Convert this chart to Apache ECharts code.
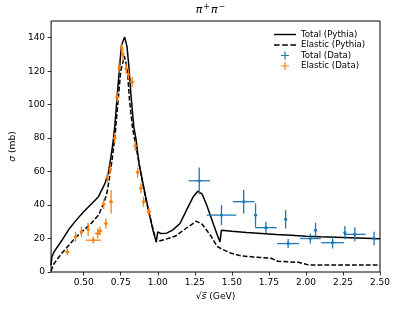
<!DOCTYPE html>
<html>
<head>
<meta charset="utf-8">
<script src="https://cdn.jsdelivr.net/npm/echarts@6/dist/echarts.min.js"></script>
<style>html,body{margin:0;padding:0;background:#fff}#c{width:398px;height:309px}</style>
</head>
<body>
<div id="c"></div>
<script>
var xTicks = [0.5, 0.75, 1.0, 1.25, 1.5, 1.75, 2.0, 2.25, 2.5];
var yTicks = [0, 20, 40, 60, 80, 100, 120, 140];

var totalPythiaX = [0.28, 0.285, 0.30, 0.35, 0.40, 0.45, 0.50, 0.55, 0.60, 0.644, 0.667, 0.688, 0.70, 0.71, 0.726, 0.743, 0.754, 0.776, 0.792, 0.805, 0.82, 0.838, 0.853, 0.875, 0.908, 0.941, 0.97, 0.99, 1.0, 1.02, 1.06, 1.10, 1.15, 1.20, 1.24, 1.27, 1.30, 1.33, 1.37, 1.40, 1.42, 1.43, 1.5, 1.6, 1.7, 1.8, 1.9, 2.0, 2.1, 2.2, 2.3, 2.4, 2.5];
var totalPythiaY = [4, 9, 12, 18.5, 25.5, 31, 36, 40.5, 45, 53, 59.5, 71, 79, 87, 105, 123, 135, 140.5, 135, 123, 105, 87, 79.5, 64, 49.5, 35.5, 24, 18, 24, 23, 23.2, 25, 29, 38, 45, 48.3, 46.5, 40, 30, 22.5, 18, 25, 24.3, 23.6, 23, 22.4, 21.9, 21.4, 21, 20.7, 20.4, 20.1, 19.8];

var elasticPythiaX = [0.28, 0.29, 0.30, 0.35, 0.40, 0.45, 0.50, 0.55, 0.60, 0.63, 0.655, 0.67, 0.69, 0.71, 0.733, 0.75, 0.775, 0.795, 0.809, 0.83, 0.853, 0.886, 0.919, 0.963, 0.99, 1.05, 1.12, 1.18, 1.26, 1.30, 1.36, 1.40, 1.43, 1.49, 1.556, 1.64, 1.765, 1.81, 1.95, 2.02, 2.5];
var elasticPythiaY = [0.5, 3, 5, 11, 16, 21, 25, 29, 34, 40, 46.4, 54, 66, 80, 103, 120, 129, 121, 103, 86, 75, 59, 43.5, 27.5, 18, 19.5, 21.5, 25.4, 30.4, 28.5, 21.4, 15.4, 13.8, 11.4, 9.8, 9, 8.2, 6.4, 5.8, 4.2, 4.2];

// [sqrt(s), sigma, xerr, yerr]
var totalData = [
  [1.28, 54.5, 0.072, 8],
  [1.43, 34, 0.1, 6],
  [1.58, 42, 0.074, 7],
  [1.66, 34, 0.008, 7],
  [1.73, 26.5, 0.073, 3.5],
  [1.863, 31.5, 0.008, 5.5],
  [1.88, 17, 0.074, 2.7],
  [2.03, 20, 0.07, 3],
  [2.065, 25, 0.008, 4.5],
  [2.18, 17.5, 0.077, 3.5],
  [2.263, 23.5, 0.008, 4],
  [2.33, 22.5, 0.073, 4.3],
  [2.46, 20, 0.01, 4]
];
var elasticData = [
  [0.39, 12, 0.015, 2],
  [0.445, 21, 0.01, 3],
  [0.485, 24, 0.012, 3],
  [0.53, 25.5, 0.012, 4],
  [0.565, 19, 0.05, 2],
  [0.595, 23, 0.02, 3],
  [0.61, 24.5, 0.015, 2.5],
  [0.65, 29, 0.01, 3],
  [0.635, 40.5, 0.012, 3],
  [0.685, 42, 0.012, 7],
  [0.66, 56.5, 0.01, 3],
  [0.68, 61.5, 0.01, 3],
  [0.71, 80, 0.01, 3],
  [0.726, 104.5, 0.012, 3],
  [0.739, 122, 0.01, 3],
  [0.755, 134, 0.008, 3],
  [0.765, 130, 0.008, 4],
  [0.787, 121.5, 0.01, 3],
  [0.802, 118, 0.01, 3],
  [0.827, 113.5, 0.015, 3],
  [0.848, 75.5, 0.01, 3],
  [0.864, 59.5, 0.01, 3],
  [0.886, 50, 0.01, 3],
  [0.904, 42, 0.01, 3],
  [0.94, 36, 0.015, 2.5]
];

function zip(xs, ys) { return xs.map(function (x, i) { return [x, ys[i]]; }); }

var FONT = 'DejaVu Sans';
var crossIcon = 'path://M8.5,0H11.5V8.5H20V11.5H11.5V20H8.5V11.5H0V8.5H8.5Z';
var solidIcon = 'path://M0,0H22V1.4H0Z';
var dashIcon = 'path://M0,0H5.6V1.4H0Z M8.2,0H13.8V1.4H8.2Z M16.4,0H22V1.4H16.4Z';

function errRender(color) {
  return function (params, api) {
    var x = api.value(0), y = api.value(1), xe = api.value(2), ye = api.value(3);
    var c = api.coord([x, y]);
    var l = api.coord([x - xe, y]), r = api.coord([x + xe, y]);
    var b = api.coord([x, y - ye]), t = api.coord([x, y + ye]);
    var st = { stroke: color, lineWidth: 1.3 };
    return {
      type: 'group',
      children: [
        { type: 'line', shape: { x1: l[0], y1: l[1], x2: r[0], y2: r[1] }, style: st },
        { type: 'line', shape: { x1: b[0], y1: b[1], x2: t[0], y2: t[1] }, style: st },
        { type: 'circle', shape: { cx: c[0], cy: c[1], r: 1.6 }, style: { fill: color } }
      ]
    };
  };
}

var chart = echarts.init(document.getElementById('c'), null, { renderer: 'canvas' });
chart.setOption({
  animation: false,
  backgroundColor: '#fff',
  textStyle: { fontFamily: FONT },
  title: {
    text: '{i|π}{s|+}{i|π}{s|−}',
    left: 211, textAlign: 'center', top: 3, padding: 0,
    textStyle: {
      fontFamily: FONT, fontSize: 11, fontWeight: 'normal', color: '#000',
      rich: {
        i: { fontFamily: FONT, fontSize: 11, fontStyle: 'italic', color: '#000', lineHeight: 14 },
        s: { fontFamily: FONT, fontSize: 8, color: '#000', lineHeight: 8, verticalAlign: 'top', padding: [0, 1, 0, 1] }
      }
    }
  },
  grid: { left: 43, right: 18, top: 21, bottom: 37, show: true, borderColor: '#000', borderWidth: 1, backgroundColor: 'transparent' },
  legend: {
    orient: 'vertical', left: 274, top: 30, padding: 0,
    itemWidth: 22, itemHeight: 8, itemGap: 1.5,
    textStyle: { fontFamily: FONT, fontSize: 8.6, color: '#000', lineHeight: 8 },
    data: [
      { name: 'Total (Pythia)', icon: solidIcon },
      { name: 'Elastic (Pythia)', icon: dashIcon },
      { name: 'Total (Data)', icon: crossIcon },
      { name: 'Elastic (Data)', icon: crossIcon }
    ]
  },
  xAxis: {
    type: 'value', min: 0.28, max: 2.5,
    name: '√{i|s̅} (GeV)', nameLocation: 'middle', nameGap: 20,
    nameTextStyle: { fontFamily: FONT, fontSize: 9.2, color: '#000',
      rich: { i: { fontFamily: FONT, fontSize: 9.2, fontStyle: 'italic', color: '#000' } } },
    splitLine: { show: false },
    axisLine: { show: false },
    axisTick: { show: true, inside: false, length: 3.5, lineStyle: { color: '#000', width: 0.8 }, customValues: xTicks },
    axisLabel: { fontFamily: FONT, fontSize: 9, color: '#000', margin: 6, customValues: xTicks,
      formatter: function (v) { return v.toFixed(2); } }
  },
  yAxis: {
    type: 'value', min: 0, max: 150,
    name: '{i|σ} (mb)', nameLocation: 'middle', nameGap: 27, nameRotate: 90,
    nameTextStyle: { fontFamily: FONT, fontSize: 9.2, color: '#000',
      rich: { i: { fontFamily: FONT, fontSize: 9.2, fontStyle: 'italic', color: '#000' } } },
    splitLine: { show: false },
    axisLine: { show: false },
    axisTick: { show: true, inside: false, length: 3.5, lineStyle: { color: '#000', width: 0.8 }, customValues: yTicks },
    axisLabel: { fontFamily: FONT, fontSize: 9, color: '#000', margin: 6, customValues: yTicks }
  },
  series: [
    {
      name: 'Total (Pythia)', type: 'line', data: zip(totalPythiaX, totalPythiaY),
      symbol: 'none', showSymbol: false, z: 2,
      lineStyle: { color: '#000', width: 1.5, type: 'solid' }, itemStyle: { color: '#000' }
    },
    {
      name: 'Elastic (Pythia)', type: 'line', data: zip(elasticPythiaX, elasticPythiaY),
      symbol: 'none', showSymbol: false, z: 2,
      lineStyle: { color: '#000', width: 1.5, type: [4.8, 2.1] }, itemStyle: { color: '#000' }
    },
    {
      name: 'Total (Data)', type: 'custom', data: totalData, z: 3,
      itemStyle: { color: '#1f77b4' }, renderItem: errRender('#1f77b4')
    },
    {
      name: 'Elastic (Data)', type: 'custom', data: elasticData, z: 3,
      itemStyle: { color: '#ff7f0e' }, renderItem: errRender('#ff7f0e')
    }
  ]
});
</script>
</body>
</html>
